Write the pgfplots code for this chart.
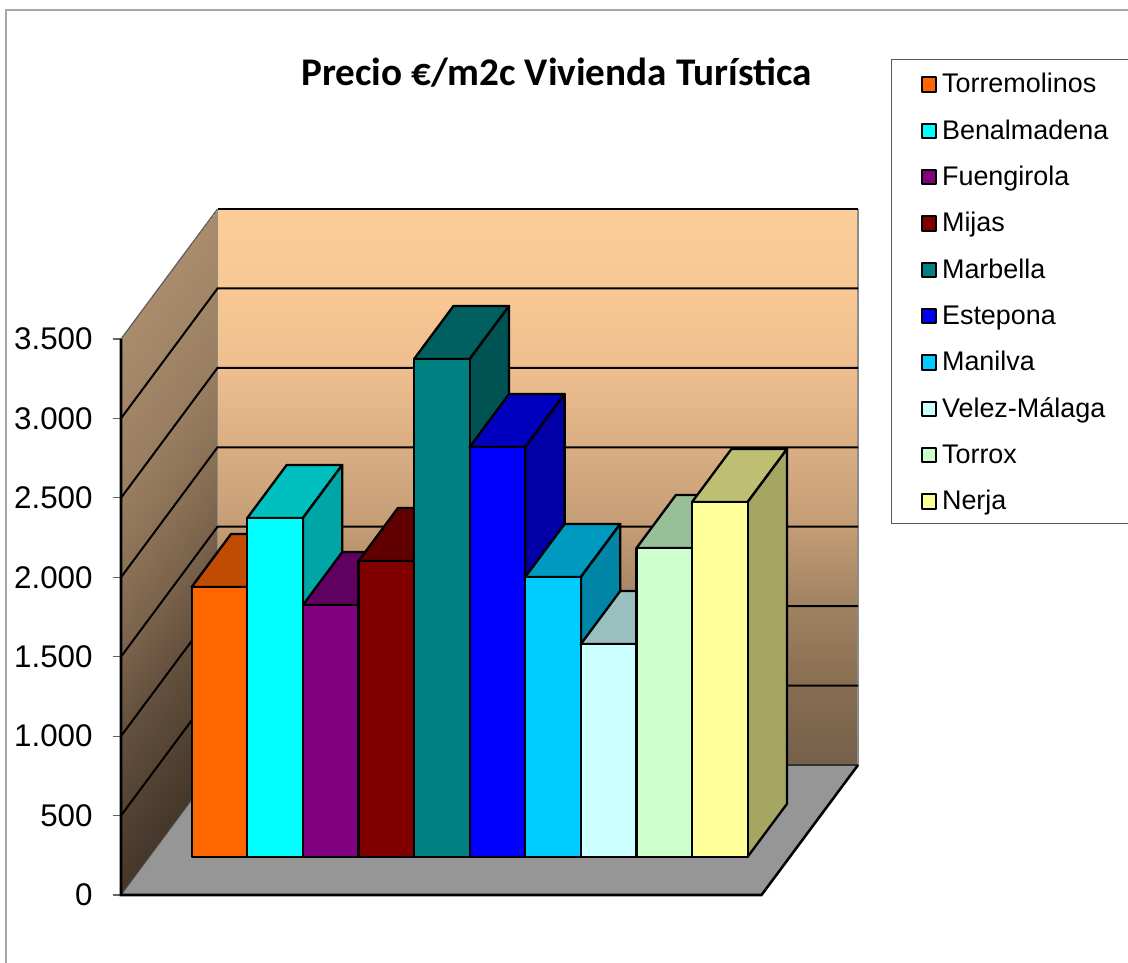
\documentclass[border=0pt]{standalone}
\usepackage{fontspec}
\setmainfont{Liberation Sans}
\newfontfamily\carlito{Carlito}
\usepackage{pgfplots}
\pgfplotsset{compat=1.18}
\definecolor{cA}{HTML}{FF6600}
\definecolor{cB}{HTML}{00FFFF}
\definecolor{cC}{HTML}{800080}
\definecolor{cD}{HTML}{800000}
\definecolor{cE}{HTML}{008080}
\definecolor{cF}{HTML}{0000FF}
\definecolor{cG}{HTML}{00CCFF}
\definecolor{cH}{HTML}{CCFFFF}
\definecolor{cI}{HTML}{CCFFCC}
\definecolor{cJ}{HTML}{FFFF99}
% one bar: left x, right x, value, colour, name
\newcommand{\drawbar}[5]{%
  \addplot3[forget plot,fill=#4!75!black,draw=black,line width=1.75pt,line join=round] coordinates {(#1,0.2946,#3) (#2,0.2946,#3) (#2,0.7023,#3) (#1,0.7023,#3)} --cycle;
  \addplot3[forget plot,fill=#4!65!black,draw=black,line width=1.75pt,line join=round] coordinates {(#2,0.2946,0) (#2,0.7023,0) (#2,0.7023,#3) (#2,0.2946,#3)} --cycle;
  \addplot3[fill=#4,draw=black,line width=1.75pt,line join=round] coordinates {(#1,0.2946,0) (#2,0.2946,0) (#2,0.2946,#3) (#1,0.2946,#3)} --cycle;
  \addlegendentry{#5}%
}
\begin{document}
\begin{tikzpicture}[x=0.75pt,y=-0.75pt]
\path[use as bounding box] (0,0) rectangle (1128,963);
\draw[draw=black!35,line width=0.9pt] (6,1020) -- (6,10) -- (1140,10);
\draw[draw=black!65,line width=0.7pt] (1140,59) -- (891,59) -- (891,523) -- (1140,523);
\node[font=\carlito\bfseries\fontsize{29.4}{34}\selectfont,anchor=center] at (556.5,73) {Precio €/m2c Vivienda Turística};
\begin{axis}[
  at={(90.75pt,-671.25pt)},anchor=origin,
  x={(41.7pt,0pt)},y={(72.4pt,97.5pt)},z={(0pt,0.11914pt)},
  xmin=0,xmax=11.52,ymin=0,ymax=1,zmin=0,zmax=3500,
  axis lines*=left,clip=false,
  xtick=\empty,ytick=\empty,
  ztick={0,500,1000,1500,2000,2500,3000,3500},
  scaled z ticks=false,
  /pgf/number format/.cd,assume math mode=true,fixed,1000 sep={.},
  /pgfplots/.cd,
  tick align=outside,major tick length=0pt,
  z tick label style={font=\fontsize{23.5}{28}\selectfont,anchor=east,xshift=-17.8pt,yshift=0pt},
  ztick pos=left,
  axis line style={draw=none},
  no markers,
  legend style={draw=none,fill=none,at={(1.0845,1.199)},anchor=north west,
    legend cell align=left,inner sep=0pt,
    nodes={inner sep=0pt,text height=15pt,text depth=4pt,font=\fontsize{20.2}{24}\selectfont},
    row sep=15.75pt,column sep=4pt},
  legend image code/.code={\draw[#1,draw=black,line width=1.5pt,solid](0pt,-4.6pt) rectangle (10.6pt,6pt);},
]
% side wall
\addplot3[forget plot,patch,patch type=rectangle,shader=interp,
  colormap={sw}{rgb255=(68,54,42) rgb255=(84,67,51) rgb255=(100,80,62) rgb255=(122,98,75) rgb255=(138,113,86) rgb255=(152,125,96) rgb255=(161,133,103) rgb255=(168,140,108)},point meta=explicit,point meta min=0,point meta max=3500]
  coordinates {(0,0,0) [0] (0,1,0) [0] (0,1,3500) [3500] (0,0,3500) [3500]};
% back wall
\addplot3[forget plot,patch,patch type=rectangle,shader=interp,
  colormap={bw}{rgb255=(117,96,74) rgb255=(136,109,82) rgb255=(160,130,97) rgb255=(196,157,117) rgb255=(218,174,131) rgb255=(238,190,143) rgb255=(248,200,148) rgb255=(253,205,153)},point meta=explicit,point meta min=0,point meta max=3500]
  coordinates {(0,1,0) [0] (11.52,1,0) [0] (11.52,1,3500) [3500] (0,1,3500) [3500]};
% floor
\addplot3[forget plot,fill=black!41,draw=none] coordinates {(0,0,0) (11.52,0,0) (11.52,1,0) (0,1,0)} --cycle;
% wall edges
\addplot3[forget plot,draw=black!70,line width=0.7pt] coordinates {(0,0,0) (0,1,0)};
\addplot3[forget plot,draw=black!65,line width=0.9pt] coordinates {(0,0,3500) (0,1,3500)};
\addplot3[forget plot,draw=black!45,line width=1pt] coordinates {(0,1,0) (0,1,3500)};
\addplot3[forget plot,draw=black!45,line width=1.3pt] coordinates {(11.52,1,0) (11.52,1,3500)};
\addplot3[forget plot,draw=black!80,line width=1pt] coordinates {(0,1,0) (11.52,1,0)};
% gridlines
\addplot3[forget plot,draw=black,line width=1.5pt] coordinates {(0,0,500) (0,1,500) (11.52,1,500)};
\addplot3[forget plot,draw=black,line width=1.5pt] coordinates {(0,0,1000) (0,1,1000) (11.52,1,1000)};
\addplot3[forget plot,draw=black,line width=1.5pt] coordinates {(0,0,1500) (0,1,1500) (11.52,1,1500)};
\addplot3[forget plot,draw=black,line width=1.5pt] coordinates {(0,0,2000) (0,1,2000) (11.52,1,2000)};
\addplot3[forget plot,draw=black,line width=1.5pt] coordinates {(0,0,2500) (0,1,2500) (11.52,1,2500)};
\addplot3[forget plot,draw=black,line width=1.5pt] coordinates {(0,0,3000) (0,1,3000) (11.52,1,3000)};
\addplot3[forget plot,draw=black,line width=1.5pt] coordinates {(0,1,3500) (11.52,1,3500)};
% tick marks
\addplot3[forget plot,draw=black!60,line width=0.8pt] coordinates {(-0.15,0,0) (0,0,0)};
\addplot3[forget plot,draw=black!60,line width=0.8pt] coordinates {(-0.15,0,500) (0,0,500)};
\addplot3[forget plot,draw=black!60,line width=0.8pt] coordinates {(-0.15,0,1000) (0,0,1000)};
\addplot3[forget plot,draw=black!60,line width=0.8pt] coordinates {(-0.15,0,1500) (0,0,1500)};
\addplot3[forget plot,draw=black!60,line width=0.8pt] coordinates {(-0.15,0,2000) (0,0,2000)};
\addplot3[forget plot,draw=black!60,line width=0.8pt] coordinates {(-0.15,0,2500) (0,0,2500)};
\addplot3[forget plot,draw=black!60,line width=0.8pt] coordinates {(-0.15,0,3000) (0,0,3000)};
\addplot3[forget plot,draw=black!60,line width=0.8pt] coordinates {(-0.15,0,3500) (0,0,3500)};
% axis lines
\addplot3[forget plot,draw=black,line width=1.9pt] coordinates {(0,0,3500) (0,0,0) (11.52,0,0) (11.52,1,0)};
% bars
\drawbar{0.76}{1.76}{1698}{cA}{Torremolinos}
\drawbar{1.76}{2.76}{2132}{cB}{Benalmadena}
\drawbar{2.76}{3.76}{1584}{cC}{Fuengirola}
\drawbar{3.76}{4.76}{1861}{cD}{Mijas}
\drawbar{4.76}{5.76}{3133}{cE}{Marbella}
\drawbar{5.76}{6.76}{2579}{cF}{Estepona}
\drawbar{6.76}{7.76}{1761}{cG}{Manilva}
\drawbar{7.76}{8.76}{1339}{cH}{Velez-Málaga}
\drawbar{8.76}{9.76}{1943}{cI}{Torrox}
\drawbar{9.76}{10.76}{2233}{cJ}{Nerja}
\end{axis}
\end{tikzpicture}
\end{document}
